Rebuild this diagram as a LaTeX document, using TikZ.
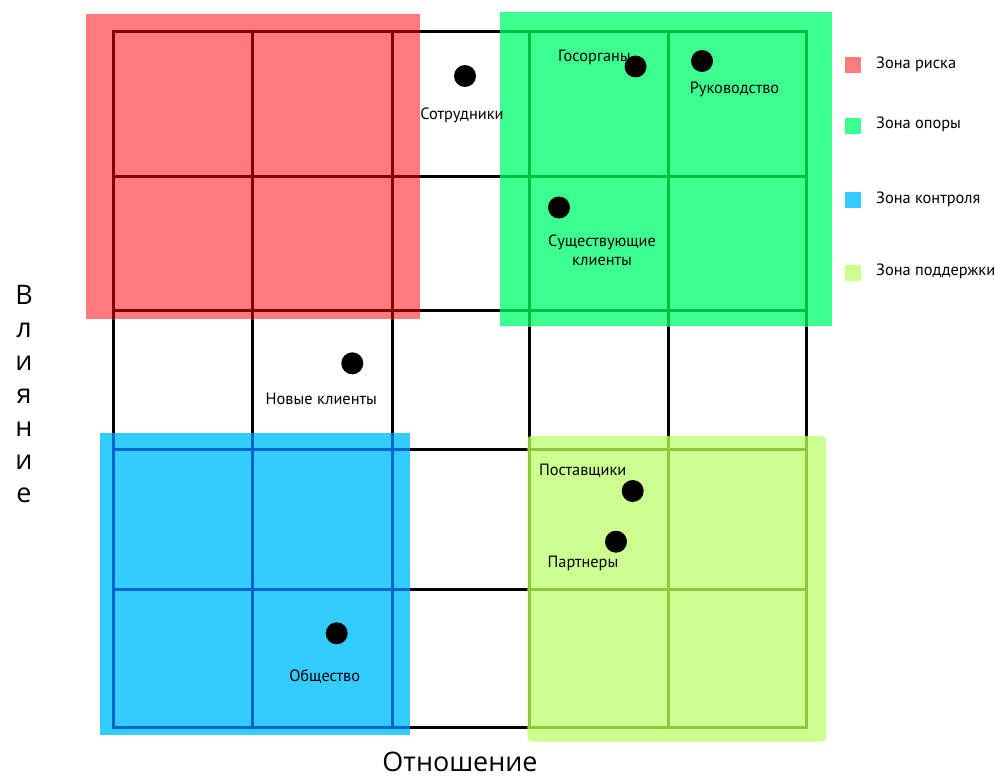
\documentclass[tikz,border=0pt]{standalone}
\usepackage{fontspec}
\setmainfont{PT Sans}
\newfontfamily\axisfont{Open Sans}
\usetikzlibrary{positioning}
\definecolor{risk}{HTML}{FF7A7C}
\definecolor{riskline}{HTML}{800000}
\definecolor{prop}{HTML}{3CFF90}
\definecolor{propline}{HTML}{00C040}
\definecolor{ctrl}{HTML}{33CCFF}
\definecolor{ctrlline}{HTML}{0066CC}
\definecolor{help}{HTML}{CCFF90}
\definecolor{helpline}{HTML}{8CC83C}
\tikzset{
  gridline/.style={line width=3bp,line cap=rect},
  dot/.style={circle,fill=black,minimum size=22bp,inner sep=0pt},
  lbl/.style={font=\fontsize{16.4}{19.5}\selectfont,inner sep=0pt,align=center},
  legsq/.style={minimum size=16bp,inner sep=0pt},
  axislbl/.style={font=\axisfont\fontsize{27}{33.2}\selectfont,inner sep=0pt,align=center},
}
% grid of 5x5 cells in one colour
\newcommand{\zonegrid}[1]{%
  \foreach \gx in {113,252.5,392,529,668,806} \draw[gridline,draw=#1] (\gx,32) -- (\gx,727);
  \foreach \gy in {32,176,310,449,589,727} \draw[gridline,draw=#1] (113,\gy) -- (806,\gy);
}
\begin{document}
\begin{tikzpicture}[x=1bp,y=-1bp,node distance=20bp,on grid]
\useasboundingbox (0,0) rectangle (995,776);
\zonegrid{black}

% zones
\fill[risk] (86,14) rectangle (420,319);
\begin{scope} \clip (86,14) rectangle (420,319); \zonegrid{riskline} \end{scope}
\fill[prop] (500,12.5) rectangle (832,326);
\begin{scope} \clip (500,12.5) rectangle (832,326); \zonegrid{propline} \end{scope}
\fill[ctrl] (100,433) rectangle (410,735);
\begin{scope} \clip (100,433) rectangle (410,735); \zonegrid{ctrlline} \end{scope}
\fill[help,rounded corners=4bp] (527.5,436) rectangle (826,741.5);
\begin{scope} \clip[rounded corners=4bp] (527.5,436) rectangle (826,741.5); \zonegrid{helpline} \end{scope}

% stakeholders
\node[dot] (sotr) at (465,76) {};
\node[lbl,below=39bp of sotr,xshift=-3bp] (sotrlbl) {Сотрудники};
\node[dot] (gos) at (635.5,66.5) {};
\node[lbl,left=41bp of gos,yshift=9.5bp] (goslbl) {Госорганы};
\node[dot] (ruk) at (702,61) {};
\node[lbl,below=28bp of ruk,xshift=32.5bp] (ruklbl) {Руководство};
\node[dot] (exist) at (559,207.5) {};
\node[lbl,below=43bp of exist,xshift=43bp] (existlbl) {Существующие\\клиенты};
\node[dot] (newcl) at (352.3,363.3) {};
\node[lbl,below=36bp of newcl,xshift=-31bp] (newcllbl) {Новые клиенты};
\node[dot] (post) at (632.7,491) {};
\node[lbl,above=20bp of post,xshift=-50bp] (postlbl) {Поставщики};
\node[dot] (part) at (616,541.7) {};
\node[lbl,below=22bp of part,xshift=-33bp] (partlbl) {Партнеры};
\node[dot] (obsch) at (336.7,633.3) {};
\node[lbl,below=43bp of obsch,xshift=-12bp] (obschlbl) {Общество};

% legend
\node[legsq,fill=risk] (legrisk) at (853,65) {};
\node[lbl,anchor=west] (legrisktxt) at (876,64) {Зона риска};
\node[legsq,fill=prop] (legprop) at (853,125.5) {};
\node[lbl,anchor=west] (legproptxt) at (876,124) {Зона опоры};
\node[legsq,fill=ctrl] (legctrl) at (853,200) {};
\node[lbl,anchor=west] (legctrltxt) at (876,199) {Зона контроля};
\node[legsq,fill=help] (leghelp) at (853,273) {};
\node[lbl,anchor=west] (leghelptxt) at (876,271) {Зона поддержки};

% axes
\node[axislbl] (infl) at (24,394) {В\\л\\и\\я\\н\\и\\е};
\node[axislbl,anchor=base] (rel) at (460,771) {Отношение};
\end{tikzpicture}
\end{document}
